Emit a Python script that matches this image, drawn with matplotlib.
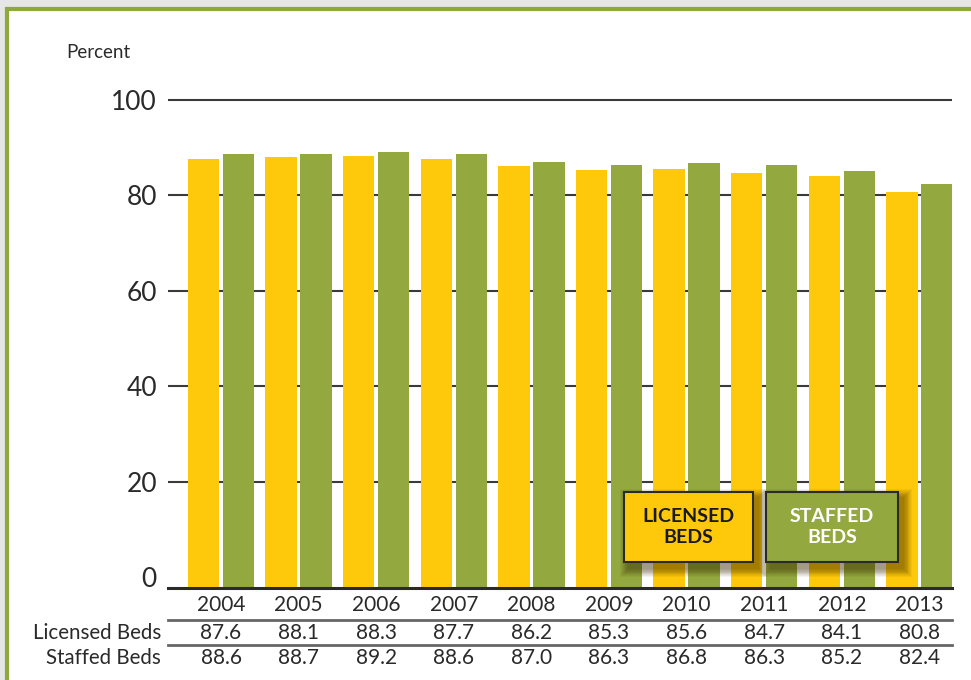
import matplotlib
matplotlib.use("Agg")
import matplotlib.pyplot as plt
from matplotlib.patches import Rectangle
import matplotlib.transforms as mtransforms

years = ["2004", "2005", "2006", "2007", "2008", "2009", "2010", "2011", "2012", "2013"]
licensed = [87.6, 88.1, 88.3, 87.7, 86.2, 85.3, 85.6, 84.7, 84.1, 80.8]
staffed = [88.6, 88.7, 89.2, 88.6, 87.0, 86.3, 86.8, 86.3, 85.2, 82.4]
yticks = [0, 20, 40, 60, 80, 100]
row_labels = ["Licensed Beds", "Staffed Beds"]
legend_labels = ["LICENSED\nBEDS", "STAFFED\nBEDS"]

YELLOW = "#FFC90B"
GREEN = "#93A83F"
BORDER = "#8FA83A"
TXT = "#2a2a2a"

plt.rcParams['font.family'] = ['Lato', 'DejaVu Sans']

W, H = 971, 680
fig = plt.figure(figsize=(W / 100, H / 100), dpi=100)
fig.patch.set_facecolor("#e6e6e6")

def fx(px):
    return px / W

def fy(py):
    return 1 - py / H

# outer panel with green border
fig.patches.append(Rectangle((fx(7), fy(H + 20)), fx(W + 20), (H + 20 - 9) / H,
                             transform=fig.transFigure, facecolor="white",
                             edgecolor=BORDER, linewidth=3, zorder=-10))

ymin, ymax = -2.2, 101
ax_left, ax_right, ax_top, ax_bot = 168, 952, 100 - 4.775, 588
ax = fig.add_axes([fx(ax_left), fy(ax_bot), (ax_right - ax_left) / W, (ax_bot - ax_top) / H])
ax.patch.set_alpha(0)
ax.set_zorder(1)

n = len(years)
xs = list(range(n))
bw = 0.405
off = 0.2255
ax.bar([x - off for x in xs], [v - ymin for v in licensed], bottom=ymin, width=bw,
       color=YELLOW, zorder=3)
ax.bar([x + off for x in xs], [v - ymin for v in staffed], bottom=ymin, width=bw,
       color=GREEN, zorder=3)

for t in yticks[1:]:
    ax.axhline(t, color="#3a3a3a", linewidth=1.5, zorder=1)
ax.axhline(ymin, color="#2a2a2a", linewidth=2.2, zorder=4, clip_on=False)

ax.set_xlim(-0.683, 9.42)
ax.set_ylim(ymin, ymax)
ax.set_yticks(yticks)
ax.set_yticklabels([str(t) for t in yticks], fontsize=19, color=TXT)
ax.tick_params(axis="y", length=0, pad=8)
ax.set_xticks([])
for s in ax.spines.values():
    s.set_visible(False)

fig.text(fx(66), fy(52), "Percent", fontsize=13.5, color=TXT, ha="left", va="center")

# table beneath
bt = mtransforms.blended_transform_factory(ax.transData, fig.transFigure)
for x, y in zip(xs, years):
    fig.text(x, fy(605), y, transform=bt, ha="center", va="center", fontsize=15, color=TXT)
for x, v in zip(xs, licensed):
    fig.text(x, fy(633), f"{v:.1f}", transform=bt, ha="center", va="center", fontsize=15, color=TXT)
for x, v in zip(xs, staffed):
    fig.text(x, fy(658), f"{v:.1f}", transform=bt, ha="center", va="center", fontsize=15, color=TXT)
fig.text(fx(161), fy(633), row_labels[0], ha="right", va="center", fontsize=14.8, color=TXT)
fig.text(fx(161), fy(658), row_labels[1], ha="right", va="center", fontsize=14.8, color=TXT)
for ly in (619.5, 645):
    fig.add_artist(plt.Line2D([fx(168), fx(952)], [fy(ly), fy(ly)], transform=fig.transFigure,
                              color="#666666", linewidth=2))

# legend boxes with soft shadow
boxes = [(624, 492, 753, 562, YELLOW, "#1a1a1a"), (766, 492, 898, 562, GREEN, "white")]
for (x0, y0, x1, y1, fc, tc), lab in zip(boxes, legend_labels):
    for k in range(10, 0, -1):
        sp = k * 1.8
        fig.patches.append(Rectangle((fx(x0 + 5 - sp / 2), fy(y1 + 6 + sp / 2)),
                                     (x1 - x0 + sp) / W, (y1 - y0 + sp) / H,
                                     transform=fig.transFigure, facecolor="#3a2a00",
                                     edgecolor="none", alpha=0.06, zorder=5))
    fig.patches.append(Rectangle((fx(x0), fy(y1)), (x1 - x0) / W, (y1 - y0) / H,
                                 transform=fig.transFigure, facecolor=fc,
                                 edgecolor="#2a2a2a", linewidth=1.5, zorder=6))
    fig.text(fx((x0 + x1) / 2), fy((y0 + y1) / 2), lab, ha="center", va="center",
             fontsize=14, fontweight="bold", color=tc, linespacing=1.25, zorder=7,
             family=['Liberation Sans Narrow', 'Lato', 'DejaVu Sans'])

fig.savefig("out.png", dpi=100, facecolor=fig.get_facecolor())
